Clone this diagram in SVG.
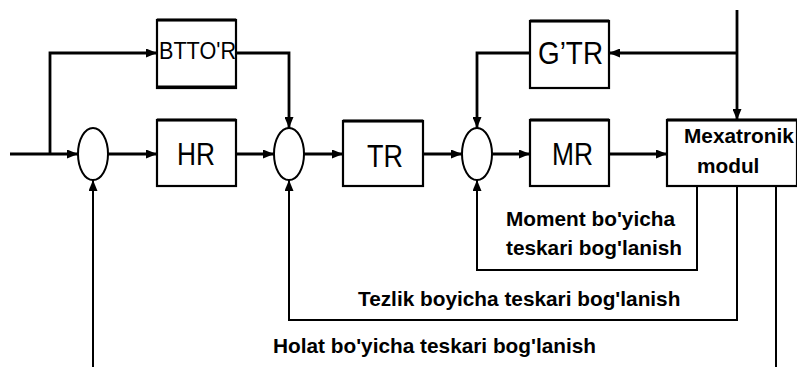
<svg xmlns="http://www.w3.org/2000/svg" width="797" height="367" viewBox="0 0 797 367">
  <style>
    .box { fill: #fff; stroke: #000; stroke-width: 2.2; }
    .edge { fill: none; stroke: #000; stroke-width: 3; }
    .sum { fill: #fff; stroke: #000; stroke-width: 2; }
    .wire { fill: none; stroke: #000; stroke-width: 2.8; }
    .fb { fill: none; stroke: #000; stroke-width: 2; }
    .blk { font-family: "Liberation Sans", Arial, sans-serif; font-size: 32px; fill: #000; text-anchor: start; }
    .lbl { font-family: "Liberation Sans", Arial, sans-serif; font-size: 20.8px; font-weight: bold; fill: #000; }
  </style>
  <defs>
    <marker id="arr" markerUnits="userSpaceOnUse" markerWidth="11" markerHeight="9" refX="11" refY="4.5" orient="auto">
      <path d="M0,0 L11,4.5 L0,9 Z" fill="#000"/>
    </marker>
  </defs>

  <rect width="797" height="367" fill="#fff"/>

  <!-- connectors -->
  <g id="connectors">
    <path class="wire" d="M10,154 H78" marker-end="url(#arr)"/>
    <path class="wire" d="M50,154 V53 H157" marker-end="url(#arr)"/>
    <path class="wire" d="M108,154 H157" marker-end="url(#arr)"/>
    <path class="wire" d="M236,154 H274" marker-end="url(#arr)"/>
    <path class="wire" d="M236,53 H289 V128" marker-end="url(#arr)"/>
    <path class="wire" d="M304,154 H343" marker-end="url(#arr)"/>
    <path class="wire" d="M423,154 H462" marker-end="url(#arr)"/>
    <path class="wire" d="M492,154 H530" marker-end="url(#arr)"/>
    <path class="wire" d="M609,154 H667" marker-end="url(#arr)"/>
    <path class="wire" d="M737,10 V120" marker-end="url(#arr)"/>
    <path class="wire" d="M737,53 H609" marker-end="url(#arr)"/>
    <path class="wire" d="M530,53 H477 V128" marker-end="url(#arr)"/>
    <path class="fb" d="M697,186 V270 H477 V180" marker-end="url(#arr)"/>
    <path class="fb" d="M737,186 V320 H289 V180" marker-end="url(#arr)"/>
    <path class="fb" d="M776,186 V367"/>
    <path class="fb" d="M93,367 V180" marker-end="url(#arr)"/>
  </g>

  <!-- summing junctions -->
  <g id="sum1"><ellipse class="sum" cx="93" cy="154" rx="15" ry="26"/></g>
  <g id="sum2"><ellipse class="sum" cx="289" cy="154" rx="15" ry="26"/></g>
  <g id="sum3"><ellipse class="sum" cx="477" cy="154" rx="15" ry="26"/></g>

  <!-- blocks -->
  <g id="btto">
    <rect class="box" x="157" y="20" width="79" height="68"/>
    <path class="edge" d="M157,20 H236 M157,87 H236"/>
    <text x="159" y="59" font-family="Liberation Sans, Arial, sans-serif" font-size="23" textLength="77" lengthAdjust="spacingAndGlyphs">BTTO'R</text>
  </g>
  <g id="hr">
    <rect class="box" x="157" y="120" width="79" height="66"/>
    <path class="edge" d="M157,120 H236"/>
    <text class="blk" x="177" y="165" textLength="38" lengthAdjust="spacingAndGlyphs">HR</text>
  </g>
  <g id="tr">
    <rect class="box" x="343" y="121" width="80" height="65"/>
    <path class="edge" d="M343,121 H423"/>
    <text class="blk" x="367" y="167" textLength="36" lengthAdjust="spacingAndGlyphs">TR</text>
  </g>
  <g id="mr">
    <rect class="box" x="530" y="120" width="79" height="66"/>
    <path class="edge" d="M530,120 H609"/>
    <text class="blk" x="552" y="165" textLength="41" lengthAdjust="spacingAndGlyphs">MR</text>
  </g>
  <g id="gtr">
    <rect class="box" x="530" y="21" width="79" height="67"/>
    <path class="edge" d="M530,21 H609"/>
    <text class="blk" x="538" y="64" textLength="65" lengthAdjust="spacingAndGlyphs">G’TR</text>
  </g>
  <g id="mexatronik">
    <rect class="box" x="667" y="120" width="130" height="66"/>
    <path class="edge" d="M667,120 H797"/>
    <text class="lbl" x="684" y="143">Mexatronik</text>
    <text class="lbl" x="697" y="173">modul</text>
  </g>

  <!-- feedback labels -->
  <g id="labels">
    <text class="lbl" x="506" y="226">Moment bo'yicha</text>
    <text class="lbl" x="506" y="255">teskari bog'lanish</text>
    <text class="lbl" x="358" y="306">Tezlik boyicha teskari bog'lanish</text>
    <text class="lbl" x="273" y="353">Holat bo'yicha teskari bog'lanish</text>
  </g>
</svg>
